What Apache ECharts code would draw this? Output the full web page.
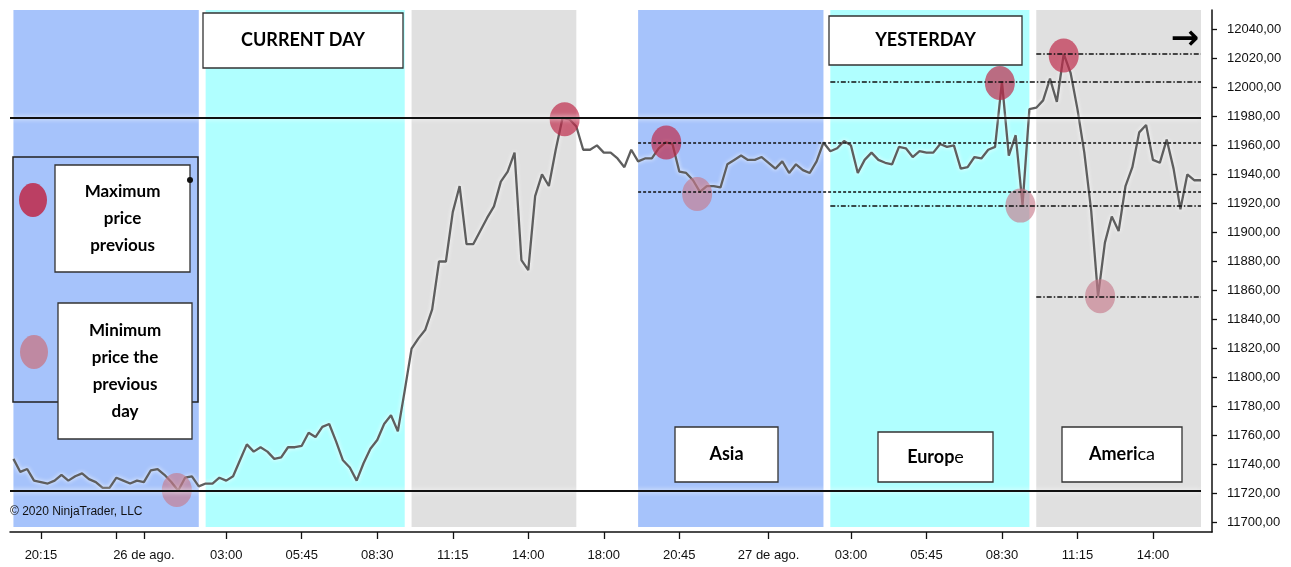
<!DOCTYPE html>
<html>
<head>
<meta charset="utf-8">
<script src="https://cdn.jsdelivr.net/npm/echarts@6/dist/echarts.min.js"></script>
<style>
html,body{margin:0;padding:0;background:#fff;}
#chart{width:1291px;height:567px;}
</style>
</head>
<body>
<div id="chart"></div>
<script>
// ---- data (15-minute bars, index = bar number) ----
const price = [
11744,11735,11737,11729,11728,11727,11729,11733,11729,11732,
11734,11730,11728,11724,11724,11731,11729,11727,11729,11728,
11736,11737,11733,11728,11722,11731,11732,11725,11727,11727,
11731,11729,11732,11743,11754,11749,11752,11749,11744,11745,
11752,11752,11753,11762,11759,11766,11768,11756,11743,11738,
11729,11741,11751,11757,11768,11774,11763,11791,11820,11827,
11833,11847,11880,11880,11914,11932,11892,11892,11901,11910,
11918,11935,11942,11955,11881,11874,11925,11940,11932,11957,
11979,11978,11973,11957,11957,11960,11955,11955,11951,11945,
11957,11949,11951,11951,11958,11962,11961,11942,11941,11936,
11928,11932,11932,11931,11947,11950,11953,11950,11950,11952,
11948,11944,11949,11941,11947,11943,11941,11949,11962,11956,
11958,11963,11960,11941,11950,11955,11950,11948,11947,11959,
11958,11952,11956,11955,11955,11961,11959,11960,11944,11945,
11952,11951,11957,11959,12004,11953,11967,11919,11985,11986,
11991,12006,11990,12023,12010,11985,11955,11915,11856,11893,
11911,11901,11932,11945,11969,11974,11950,11948,11964,11944,
11916,11940,11936,11936
];
const tickIndex  = [4, 15, 19, 31, 42, 53, 64, 75, 86, 97, 110, 122, 133, 144, 155, 166];
const tickLabels = ['20:15', '', '26 de ago.', '03:00', '05:45', '08:30', '11:15', '14:00',
                    '18:00', '20:45', '27 de ago.', '03:00', '05:45', '08:30', '11:15', '14:00'];
const yTicks = [11700,11720,11740,11760,11780,11800,11820,11840,11860,11880,
                11900,11920,11940,11960,11980,12000,12020,12040];

// sessions: Asia / Europe / America background bands
const sessionStart = [0, 28, 58, 91, 119, 149];
const sessionEnd   = [27, 57, 82, 118, 148, 173];
const sessionKind  = ['asia', 'europe', 'america', 'asia', 'europe', 'america'];

// session highs / lows (circles)
const highMarks = [[80.3, 11978], [95.1, 11962], [143.7, 12003], [153.0, 12022]];
const lowMarks  = [[23.8, 11722.5], [99.6, 11926.5], [146.7, 11918.5], [158.3, 11856]];

// reference levels
const solidLevels    = [11979, 11722];
const dashedLevels   = [11962, 11928];     // from bar 91
const dashDotLevels1 = [12004, 11918.5];   // from bar 119
const dashDotLevels2 = [12023, 11856];     // from bar 149

// ---- styling ----
const bandColor = {asia: '#a6c3fb', europe: '#b0ffff', america: '#e0e0e0'};
const FONT = 'Liberation Sans, Arial, sans-serif';
const BOXFONT = 'Lato, "Open Sans", sans-serif';
const HIGH_COLOR = 'rgba(190,40,72,0.85)';
const LOW_COLOR = 'rgba(198,122,140,0.8)';

const lineData = price.map((v, i) => [i, v]);

const areaData = sessionStart.map((s, k) => [
  {coord: [s, 11697], itemStyle: {color: bandColor[sessionKind[k]]}},
  {coord: [sessionEnd[k], 12053.3]}
]);

function seg(from, to, val, style) {
  return [{coord: [from, val], lineStyle: style}, {coord: [to, val]}];
}

const chart = echarts.init(document.getElementById('chart'), null, {renderer: 'canvas'});

function box(x, y, w, h, text, fontSize, rich) {
  const t = {type: 'text', z: 101, style: {
    text: text, x: x + w / 2, y: y + h / 2, align: 'center', verticalAlign: 'middle',
    font: 'bold ' + fontSize + 'px ' + BOXFONT, fill: '#000', lineHeight: 27}};
  if (rich) t.style.rich = rich;
  return [
    {type: 'rect', z: 100, shape: {x: x, y: y, width: w, height: h},
     style: {fill: '#fff', stroke: '#333', lineWidth: 1.3}},
    t
  ];
}

const richBR = {
  b: {fontWeight: 'bold', fontSize: 18, fontFamily: BOXFONT, fill: '#000'},
  r: {fontWeight: 'normal', fontSize: 18, fontFamily: BOXFONT, fill: '#000'}
};

const graphics = [].concat(
  box(203, 13, 200, 55, 'CURRENT DAY', 18),
  box(829, 16, 193, 49, 'YESTERDAY', 18),
  box(675, 427, 103, 55, 'Asia', 18),
  box(878, 432, 115, 50, '{b|Europ}{r|e}', 18, richBR),
  box(1062, 427, 120, 55, '{b|Ameri}{r|ca}', 18, richBR),
  [
    {type: 'rect', z: 99, shape: {x: 13, y: 157, width: 185, height: 245},
     style: {fill: 'transparent', stroke: '#222', lineWidth: 1.5}},
    {type: 'ellipse', z: 100, shape: {cx: 33, cy: 200, rx: 14, ry: 17},
     style: {fill: HIGH_COLOR}},
    {type: 'ellipse', z: 100, shape: {cx: 34, cy: 352, rx: 14, ry: 17},
     style: {fill: LOW_COLOR}},
    {type: 'circle', z: 102, shape: {cx: 190, cy: 180, r: 3}, style: {fill: '#111'}}
  ],
  box(55, 165, 135, 107, 'Maximum\nprice\nprevious', 17),
  box(58, 303, 134, 136, 'Minimum\nprice the\nprevious\nday', 17),
  [
    {type: 'text', z: 100, style: {text: '\u00A9 2020 NinjaTrader, LLC', x: 10, y: 512,
      verticalAlign: 'middle', font: '12px ' + FONT, fill: '#111'}},
    {type: 'text', z: 100, style: {text: '\u2192', x: 1185, y: 40, align: 'center',
      verticalAlign: 'middle', font: 'bold 34px "DejaVu Sans", sans-serif', fill: '#000'}}
  ]
);

const option = {
  animation: false,
  backgroundColor: '#fff',
  grid: {left: 10, right: 79, top: 10, bottom: 35, containLabel: false},
  xAxis: {
    type: 'value', min: -0.5, max: 174.6,
    splitLine: {show: false},
    axisLine: {show: true, lineStyle: {color: '#111', width: 1.5}},
    axisTick: {show: true, length: 7, customValues: tickIndex, lineStyle: {color: '#111', width: 1.3}},
    axisLabel: {
      customValues: tickIndex, margin: 17, color: '#111', fontSize: 13, fontFamily: FONT,
      formatter: function (v) { const k = tickIndex.indexOf(Math.round(v)); return k >= 0 ? tickLabels[k] : ''; }
    }
  },
  yAxis: {
    type: 'value', position: 'right', min: 11693.6, max: 12053.3, scale: true,
    splitLine: {show: false},
    axisLine: {show: true, onZero: false, lineStyle: {color: '#111', width: 1.5}},
    axisTick: {show: true, length: 5, customValues: yTicks, lineStyle: {color: '#111', width: 1.3}},
    axisLabel: {
      customValues: yTicks, margin: 15, color: '#111', fontSize: 13, fontFamily: FONT,
      formatter: function (v) { return v.toFixed(2).replace('.', ','); }
    }
  },
  series: [
    {
      type: 'line', name: 'bands', data: [], silent: true, z: 1,
      markArea: {silent: true, data: areaData, itemStyle: {opacity: 1}}
    },
    {
      type: 'line', name: 'levels', data: [], silent: true, z: 2,
      markLine: {
        silent: true, symbol: ['none', 'none'], label: {show: false},
        data: [].concat(
          solidLevels.map(v => seg(-0.5, 173, v,
            {color: '#111', width: 2.2, type: 'solid', shadowColor: '#fff', shadowBlur: 5})),
          dashedLevels.map(v => seg(91, 173, v,
            {color: '#111', width: 1.6, type: [3, 2]})),
          dashDotLevels1.map(v => seg(119, 173, v,
            {color: '#111', width: 1.6, type: [5, 2, 1.5, 2]})),
          dashDotLevels2.map(v => seg(149, 173, v,
            {color: '#111', width: 1.6, type: [5, 2, 1.5, 2]}))
        )
      }
    },
    {
      type: 'line', name: 'price', data: lineData, z: 3,
      symbol: 'none', smooth: false,
      lineStyle: {color: '#5e5e5e', width: 2.3, shadowColor: 'rgba(255,255,255,0.95)', shadowBlur: 4}
    },
    {
      type: 'scatter', name: 'highs', data: highMarks, z: 4,
      symbol: 'circle', symbolSize: [30, 34],
      itemStyle: {color: HIGH_COLOR}
    },
    {
      type: 'scatter', name: 'lows', data: lowMarks, z: 4,
      symbol: 'circle', symbolSize: [30, 34],
      itemStyle: {color: LOW_COLOR}
    }
  ],
  graphic: graphics
};

chart.setOption(option);
</script>
</body>
</html>
